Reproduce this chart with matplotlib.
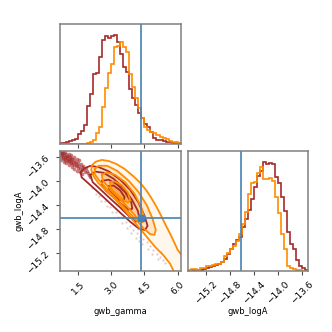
import numpy as np
import matplotlib
matplotlib.use("Agg")
import matplotlib.pyplot as plt

# ranges of the two parameters
gamma_lim = (0.69, 6.13)
logA_lim = (-15.50, -13.50)
truth_gamma = 4.333
truth_logA = -14.62

# 1D histograms (40 bins over the axis range)
gamma_red = [2, 4, 6, 9, 12, 15, 30, 40, 57, 115, 152, 212, 215, 262, 312, 325, 319, 325, 329, 307,
             272, 232, 217, 167, 137, 117, 92, 77, 60, 50, 35, 17, 12, 12, 9, 6, 5, 4, 2, 2]
gamma_orange = [0, 0, 0, 0, 0, 0, 0, 0, 1, 3, 5, 12, 32, 52, 112, 169, 215, 242, 292, 295,
                307, 292, 277, 212, 172, 139, 109, 77, 52, 42, 37, 32, 27, 22, 17, 15, 10, 7, 5, 4]
logA_red = [1, 2, 2, 3, 4, 6, 10, 12, 15, 18, 22, 26, 35, 50, 65, 80, 92, 100, 130, 155,
            182, 215, 250, 285, 300, 326, 320, 323, 320, 280, 262, 220, 180, 117, 80, 65, 32, 16, 8, 3]
logA_orange = [3, 6, 5, 4, 8, 10, 14, 16, 18, 20, 22, 28, 45, 55, 66, 75, 88, 110, 140, 175,
               230, 262, 265, 292, 310, 275, 275, 278, 270, 220, 172, 110, 65, 16, 10, 6, 4, 2, 1, 0]

# 2D contours (gamma, logA), outermost first
red_contours = [
    [(1.62, -13.86), (1.78, -13.79), (2.055, -13.75), (2.43, -13.77), (2.88, -13.84),
     (3.405, -13.98), (3.855, -14.15), (4.23, -14.36), (4.50, -14.58), (4.64, -14.75),
     (4.52, -14.82), (4.23, -14.79), (3.855, -14.68), (3.405, -14.53), (2.88, -14.35),
     (2.355, -14.17), (1.905, -14.02), (1.66, -13.94)],
    [(2.055, -13.90), (2.28, -13.845), (2.655, -13.865), (3.105, -13.965), (3.555, -14.12),
     (3.93, -14.31), (4.20, -14.50), (4.28, -14.64), (4.11, -14.68), (3.81, -14.59),
     (3.405, -14.445), (2.955, -14.295), (2.505, -14.14), (2.16, -14.02)],
    [(2.58, -14.00), (2.88, -13.98), (3.255, -14.055), (3.63, -14.19), (3.90, -14.355),
     (3.95, -14.465), (3.78, -14.48), (3.48, -14.39), (3.105, -14.275), (2.76, -14.165),
     (2.58, -14.08)],
    [(2.88, -14.088), (3.105, -14.077), (3.405, -14.159), (3.60, -14.269), (3.555, -14.34),
     (3.36, -14.312), (3.105, -14.23), (2.91, -14.159)],
]
orange_outer = [(6.30, -15.30), (6.00, -15.15), (5.75, -14.95), (5.49, -14.76), (5.25, -14.58),
                (5.04, -14.43), (4.80, -14.28), (4.59, -14.16), (4.30, -14.03), (3.99, -13.92),
                (3.60, -13.80), (3.24, -13.72), (2.90, -13.67), (2.58, -13.65), (2.30, -13.68),
                (2.12, -13.74), (2.10, -13.82), (2.20, -13.92), (2.40, -14.03), (2.73, -14.15),
                (3.18, -14.31), (3.63, -14.50), (4.08, -14.70), (4.53, -14.90), (4.98, -15.10),
                (5.355, -15.24), (5.655, -15.38), (5.85, -15.53), (6.4, -15.6)]
orange_contours = [
    [(2.25, -13.803), (2.43, -13.748), (2.805, -13.748), (3.255, -13.83), (3.78, -13.995),
     (4.23, -14.186), (4.605, -14.406), (4.86, -14.625), (5.01, -14.817), (4.95, -14.899),
     (4.755, -14.888), (4.455, -14.789), (4.08, -14.636), (3.63, -14.46), (3.18, -14.285),
     (2.73, -14.104), (2.40, -13.967), (2.25, -13.885)],
    [(2.58, -13.901), (2.805, -13.858), (3.18, -13.901), (3.63, -14.022), (4.05, -14.214),
     (4.35, -14.433), (4.50, -14.625), (4.41, -14.691), (4.23, -14.652), (3.93, -14.515),
     (3.555, -14.362), (3.15, -14.214), (2.805, -14.077), (2.61, -13.995)],
    [(2.955, -14.022), (3.18, -14.011), (3.48, -14.077), (3.75, -14.197), (3.855, -14.323),
     (3.75, -14.362), (3.555, -14.323), (3.30, -14.241), (3.06, -14.159), (2.955, -14.088)],
]

# red samples outside the contours: dense band at top left, sparse tail at bottom right
red_band = [(0.70, -13.52), (0.72, -13.56), (0.74, -13.60), (0.76, -13.53), (0.78, -13.57), (0.80, -13.62),
            (0.82, -13.54), (0.84, -13.58), (0.86, -13.63), (0.88, -13.55), (0.90, -13.60), (0.92, -13.65),
            (0.94, -13.56), (0.96, -13.61), (0.98, -13.66), (1.00, -13.58), (1.02, -13.62), (1.04, -13.67),
            (1.06, -13.59), (1.08, -13.64), (1.10, -13.69), (1.12, -13.60), (1.14, -13.65), (1.16, -13.70),
            (1.18, -13.62), (1.20, -13.67), (1.22, -13.72), (1.25, -13.64), (1.28, -13.69), (1.31, -13.74),
            (1.34, -13.66), (1.37, -13.71), (1.40, -13.76), (1.43, -13.68), (1.46, -13.73), (1.49, -13.78),
            (1.52, -13.70), (1.55, -13.75), (1.58, -13.80), (1.62, -13.72), (1.66, -13.77), (1.70, -13.82),
            (1.74, -13.75), (1.78, -13.80), (1.82, -13.85), (1.86, -13.78), (1.90, -13.83), (1.95, -13.87),
            (0.73, -13.65), (0.85, -13.68), (0.97, -13.71), (1.09, -13.74), (1.21, -13.77), (1.33, -13.80),
            (1.45, -13.83), (1.57, -13.86), (1.69, -13.88), (0.79, -13.51), (0.93, -13.52), (1.07, -13.55),
            (1.19, -13.57), (1.32, -13.60), (1.44, -13.63), (1.56, -13.66), (2.00, -13.90), (2.05, -13.94)]
red_tail = [(2.13, -14.12), (2.30, -14.22), (2.43, -14.25), (2.55, -14.33), (2.70, -14.34), (2.80, -14.42),
            (2.95, -14.44), (3.05, -14.52), (3.20, -14.52), (3.30, -14.60), (3.45, -14.60), (3.50, -14.70),
            (3.65, -14.68), (3.70, -14.78), (3.85, -14.75), (3.90, -14.86), (4.00, -14.82), (4.10, -14.95),
            (4.15, -14.87), (4.25, -15.00), (4.30, -14.93), (4.40, -15.05), (4.45, -14.96), (4.60, -15.02),
            (4.65, -15.14), (4.75, -15.08), (4.85, -15.22), (4.90, -15.15), (5.05, -15.21), (5.10, -15.30),
            (5.20, -15.26), (5.35, -15.31), (5.43, -15.36), (4.20, -14.80), (4.70, -14.98), (5.25, -15.18)]

red = "#a52a2a"
orange = "darkorange"
blue = "#4682b4"
orange_fills = ["#fff6ec", "#ffe6c8", "#ffcd92", "#ffab50"]

fig, axes = plt.subplots(2, 2, figsize=(3.32, 3.32), dpi=100)
fig.subplots_adjust(left=0.181, right=0.928, bottom=0.184, top=0.928, wspace=0.058, hspace=0.058)
ax_g, ax_empty = axes[0]
ax_2d, ax_a = axes[1]
ax_empty.set_visible(False)

for ax in (ax_g, ax_2d, ax_a):
    for s in ax.spines.values():
        s.set_color("0.5")
        s.set_linewidth(1.1)
    ax.tick_params(labelsize=6.5, length=3, width=0.8, color="0.3")

# gamma histogram
g_edges = np.linspace(gamma_lim[0], gamma_lim[1], len(gamma_red) + 1)
ax_g.stairs(gamma_red, g_edges, color=red, lw=1.2)
ax_g.stairs(gamma_orange, g_edges, color=orange, lw=1.2)
ax_g.axvline(truth_gamma, color=blue, lw=1.2)
ax_g.set_xlim(gamma_lim)
ax_g.set_ylim(0, 1.1 * max(gamma_red))
ax_g.set_yticks([])
ax_g.set_xticks([1.5, 3.0, 4.5, 6.0])
ax_g.set_xticklabels([])

# logA histogram
a_edges = np.linspace(logA_lim[0], logA_lim[1], len(logA_red) + 1)
ax_a.stairs(logA_red, a_edges, color=red, lw=1.2)
ax_a.stairs(logA_orange, a_edges, color=orange, lw=1.2)
ax_a.axvline(truth_logA, color=blue, lw=1.2)
ax_a.set_xlim(logA_lim)
ax_a.set_ylim(0, 1.1 * max(logA_red))
ax_a.set_yticks([])
ax_a.set_xticks([-15.2, -14.8, -14.4, -14.0, -13.6])
ax_a.set_xticklabels(["−15.2", "−14.8", "−14.4", "−14.0", "−13.6"], rotation=45)
ax_a.set_xlabel("gwb_logA", fontsize=6)
ax_a.xaxis.set_label_coords(0.5, -0.3)

# 2D panel
ax_2d.fill(*zip(*orange_outer), color=orange_fills[0], lw=0)
for c, fc in zip(orange_contours, orange_fills[1:]):
    ax_2d.fill(*zip(*c), color=fc, lw=0)
bx, by = zip(*red_band)
ax_2d.plot(bx, by, "o", color=red, ms=2.6, mew=0, alpha=0.6)
tx, ty = zip(*red_tail)
ax_2d.plot(tx, ty, "o", color=red, ms=1.6, mew=0, alpha=0.25)
for c in red_contours:
    cx, cy = zip(*(c + c[:1]))
    ax_2d.plot(cx, cy, color=red, lw=1.3)
ox, oy = zip(*orange_outer)
ax_2d.plot(ox, oy, color=orange, lw=1.3)
for c in orange_contours:
    cx, cy = zip(*(c + c[:1]))
    ax_2d.plot(cx, cy, color=orange, lw=1.3)
ax_2d.axvline(truth_gamma, color=blue, lw=1.2)
ax_2d.axhline(truth_logA, color=blue, lw=1.2)
ax_2d.plot(truth_gamma, truth_logA, "s", color=blue, ms=4)
ax_2d.set_xlim(gamma_lim)
ax_2d.set_ylim(logA_lim)
ax_2d.set_xticks([1.5, 3.0, 4.5, 6.0])
ax_2d.set_xticklabels(["1.5", "3.0", "4.5", "6.0"], rotation=45)
ax_2d.set_yticks([-15.2, -14.8, -14.4, -14.0, -13.6])
ax_2d.set_yticklabels(["−15.2", "−14.8", "−14.4", "−14.0", "−13.6"], rotation=45)
ax_2d.set_xlabel("gwb_gamma", fontsize=6)
ax_2d.set_ylabel("gwb_logA", fontsize=6)
ax_2d.xaxis.set_label_coords(0.5, -0.3)
ax_2d.yaxis.set_label_coords(-0.3, 0.5)

fig.savefig("out.png", dpi=100)
